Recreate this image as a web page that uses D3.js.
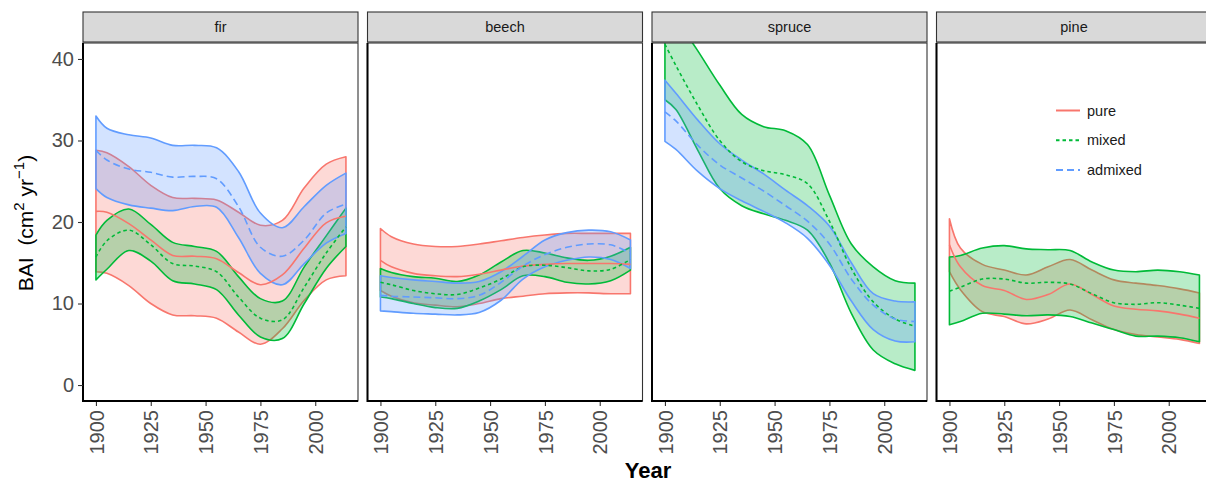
<!DOCTYPE html>
<html><head><meta charset="utf-8">
<script src="https://cdn.jsdelivr.net/npm/d3@7"></script>
<style>
html,body{margin:0;padding:0;background:#fff;}
svg{display:block;font-family:"Liberation Sans",Arial,sans-serif;}
</style>
</head><body>
<svg id="chart" width="1206" height="484"></svg>
<script>
// ---------- data ----------
const years = [1900, 1905, 1915, 1925, 1935, 1945, 1955, 1965, 1975, 1985, 1995, 2005, 2014];
const panels = ["fir", "beech", "spruce", "pine"];
const groupNames = ["pure", "mixed", "admixed"];
const yTicks = [0, 10, 20, 30, 40];
const xTicks = [1900, 1925, 1950, 1975, 2000];

// fir
const firPureHi    = [28.8, 28.5, 26.8, 24.5, 23.0, 22.9, 22.7, 21.2, 19.6, 20.2, 24.2, 27.1, 28.0];
const firPureMid   = [21.3, 21.2, 19.8, 17.8, 15.9, 15.8, 15.5, 13.8, 12.3, 13.5, 16.8, 19.9, 20.7];
const firPureLo    = [13.9, 13.7, 12.2, 10.0, 8.6, 8.5, 8.2, 6.5, 5.0, 6.9, 10.4, 12.9, 13.4];
const firMixedHi   = [18.4, 20.2, 21.6, 19.7, 17.5, 17.0, 16.4, 13.3, 10.6, 10.3, 14.5, 18.3, 21.7];
const firMixedMid  = [15.7, 17.7, 19.0, 17.2, 14.9, 14.6, 13.9, 10.8, 8.2, 8.0, 12.0, 16.2, 19.4];
const firMixedLo   = [12.9, 14.2, 16.5, 15.2, 12.8, 12.4, 11.7, 8.6, 5.9, 5.7, 10.0, 14.3, 17.0];
const firAdmixHi   = [33.0, 31.5, 30.7, 30.3, 29.4, 29.4, 29.1, 26.2, 21.1, 19.3, 21.9, 24.5, 26.0];
const firAdmixMid  = [28.8, 27.6, 26.5, 26.1, 25.5, 25.6, 25.3, 21.9, 16.9, 15.8, 17.8, 21.1, 22.2];
const firAdmixLo   = [24.1, 23.0, 22.1, 21.7, 21.4, 21.9, 21.8, 18.1, 13.7, 12.3, 14.9, 17.4, 18.6];
// beech
const beechPureHi   = [19.2, 18.2, 17.3, 17.0, 17.0, 17.3, 17.7, 18.1, 18.4, 18.6, 18.6, 18.6, 18.6];
const beechPureMid  = [15.3, 14.5, 13.7, 13.4, 13.3, 13.6, 14.1, 14.6, 14.8, 14.9, 14.9, 14.9, 14.8];
const beechPureLo   = [11.6, 10.9, 10.1, 9.8, 9.6, 10.0, 10.6, 10.9, 11.2, 11.3, 11.3, 11.2, 11.2];
const beechMixedHi  = [14.3, 13.8, 13.3, 13.1, 12.7, 13.5, 15.1, 16.5, 16.2, 15.6, 15.3, 15.8, 16.9];
const beechMixedMid = [12.6, 12.3, 11.6, 11.2, 11.1, 11.9, 13.0, 14.5, 14.7, 14.4, 14.0, 14.2, 15.4];
const beechMixedLo  = [10.8, 10.6, 10.0, 9.5, 9.4, 10.3, 11.7, 13.4, 13.3, 12.6, 12.4, 12.8, 14.1];
const beechAdmixHi  = [13.4, 13.2, 12.9, 12.7, 12.5, 12.7, 13.9, 15.8, 17.8, 18.7, 19.0, 18.8, 17.8];
const beechAdmixMid = [11.0, 10.9, 10.8, 10.7, 10.6, 11.0, 12.6, 14.6, 16.0, 16.9, 17.3, 17.2, 16.2];
const beechAdmixLo  = [9.1, 9.0, 8.8, 8.7, 8.6, 8.9, 10.4, 13.0, 14.5, 15.3, 15.7, 15.4, 14.3];
// spruce
const spruceMixedHi  = [47.5, 45.0, 41.0, 36.8, 33.2, 31.7, 31.2, 29.5, 23.3, 17.3, 14.5, 12.8, 12.5];
const spruceMixedMid = [41.8, 39.2, 34.3, 30.0, 27.4, 26.3, 25.8, 24.7, 20.1, 14.3, 10.2, 8.1, 7.2];
const spruceMixedLo  = [35.0, 33.8, 28.8, 24.1, 22.0, 21.0, 20.2, 19.0, 15.0, 8.8, 4.3, 2.6, 1.8];
const spruceAdmixHi  = [37.4, 35.8, 32.5, 29.6, 27.6, 25.9, 23.9, 22.0, 19.5, 15.0, 11.2, 10.3, 10.2];
const spruceAdmixMid = [33.5, 32.4, 29.4, 27.0, 25.4, 23.8, 22.0, 20.1, 17.3, 13.0, 9.8, 8.1, 7.8];
const spruceAdmixLo  = [29.9, 28.9, 26.2, 24.1, 22.6, 21.3, 19.9, 18.0, 14.7, 10.3, 6.8, 5.4, 5.3];
// pine
const pinePureHi   = [20.4, 16.8, 14.8, 14.1, 13.5, 14.5, 15.4, 14.1, 12.9, 12.5, 12.2, 11.8, 11.3];
const pinePureMid  = [17.2, 14.5, 12.2, 11.6, 10.5, 11.1, 12.4, 11.1, 9.7, 9.3, 9.1, 8.7, 8.2];
const pinePureLo   = [13.9, 11.7, 9.0, 8.4, 7.5, 8.1, 9.2, 8.0, 6.8, 6.2, 5.9, 5.6, 5.1];
const pineMixedHi  = [15.7, 15.9, 16.8, 17.1, 16.7, 16.6, 16.5, 15.1, 14.1, 13.9, 14.1, 13.9, 13.5];
const pineMixedMid = [11.5, 12.0, 13.0, 13.0, 12.5, 12.6, 12.4, 11.2, 10.1, 9.9, 10.1, 9.8, 9.4];
const pineMixedLo  = [7.4, 7.8, 8.8, 8.7, 8.5, 8.6, 8.4, 7.6, 6.8, 6.0, 6.0, 5.8, 5.3];

const bands = [
  {panel: "fir", group: "pure", lo: firPureLo, mid: firPureMid, hi: firPureHi},
  {panel: "fir", group: "mixed", lo: firMixedLo, mid: firMixedMid, hi: firMixedHi},
  {panel: "fir", group: "admixed", lo: firAdmixLo, mid: firAdmixMid, hi: firAdmixHi},
  {panel: "beech", group: "pure", lo: beechPureLo, mid: beechPureMid, hi: beechPureHi},
  {panel: "beech", group: "mixed", lo: beechMixedLo, mid: beechMixedMid, hi: beechMixedHi},
  {panel: "beech", group: "admixed", lo: beechAdmixLo, mid: beechAdmixMid, hi: beechAdmixHi},
  {panel: "spruce", group: "mixed", lo: spruceMixedLo, mid: spruceMixedMid, hi: spruceMixedHi},
  {panel: "spruce", group: "admixed", lo: spruceAdmixLo, mid: spruceAdmixMid, hi: spruceAdmixHi},
  {panel: "pine", group: "pure", lo: pinePureLo, mid: pinePureMid, hi: pinePureHi},
  {panel: "pine", group: "mixed", lo: pineMixedLo, mid: pineMixedMid, hi: pineMixedHi}
];

// ---------- style ----------
const color = d3.scaleOrdinal().domain(groupNames).range(["#F8766D", "#00BA38", "#619CFF"]);
const dash = d3.scaleOrdinal().domain(groupNames).range(["none", "3.5,3", "7,4"]);

const svg = d3.select("#chart");
const panelLeft = 83, panelW = 275, panelGap = 9.5;
const panelTop = 43, panelBottom = 401;
const stripTop = 12, stripH = 30;

const y = d3.scaleLinear().domain([-1.96, 41.96]).range([panelBottom, panelTop]);

panels.forEach((p, i) => {
  const x0 = panelLeft + i * (panelW + panelGap);
  const x = d3.scaleLinear().domain([1894.1, 2019.5]).range([x0, x0 + panelW]);
  const g = svg.append("g");

  // strip
  g.append("rect").attr("x", x0).attr("y", stripTop).attr("width", panelW).attr("height", stripH)
    .attr("fill", "#d9d9d9").attr("stroke", "#333").attr("stroke-width", 1.1);
  g.append("text").attr("x", x0 + panelW / 2).attr("y", stripTop + stripH / 2).attr("dy", "0.35em")
    .attr("text-anchor", "middle").attr("font-size", 14.5).attr("fill", "#1a1a1a").text(p);

  // clip
  const clipId = "clip" + i;
  svg.append("clipPath").attr("id", clipId).append("rect")
    .attr("x", x0).attr("y", panelTop).attr("width", panelW).attr("height", panelBottom - panelTop);
  const plot = g.append("g").attr("clip-path", `url(#${clipId})`);

  const pb = bands.filter(b => b.panel === p);
  const area = d3.area().x((d, k) => x(years[k])).curve(d3.curveCatmullRom.alpha(0.5));
  const line = d3.line().x((d, k) => x(years[k])).curve(d3.curveCatmullRom.alpha(0.5));

  pb.forEach(b => {
    const a = area.y0((d, k) => y(b.lo[k])).y1((d, k) => y(b.hi[k]));
    plot.append("path").attr("d", a(years))
      .attr("fill", color(b.group)).attr("fill-opacity", 0.28)
      .attr("stroke", color(b.group)).attr("stroke-width", 1.6).attr("stroke-linejoin", "round");
  });
  pb.forEach(b => {
    plot.append("path").attr("d", line.y((d, k) => y(b.mid[k]))(years))
      .attr("fill", "none").attr("stroke", color(b.group)).attr("stroke-width", 1.6)
      .attr("stroke-dasharray", dash(b.group));
  });

  // border
  g.append("rect").attr("x", x0).attr("y", panelTop).attr("width", panelW).attr("height", panelBottom - panelTop)
    .attr("fill", "none").attr("stroke", "#333").attr("stroke-width", 1.1);

  // x axis
  const xa = g.append("g").attr("transform", `translate(0,${panelBottom})`)
    .call(d3.axisBottom(x).tickValues(xTicks).tickFormat(d3.format("d")).tickSize(5).tickPadding(4));
  xa.select(".domain").remove();
  xa.selectAll(".tick line").attr("stroke", "#333").attr("stroke-width", 1.1);
  xa.selectAll(".tick text")
    .attr("transform", "rotate(-90)").attr("x", -9).attr("y", 0).attr("dy", "0.36em")
    .style("text-anchor", "end").attr("font-size", 20).attr("fill", "#4d4d4d")
    .attr("font-family", "Liberation Sans, Arial, sans-serif");
  // axis lines (left & bottom)
  g.append("line").attr("x1", x0).attr("x2", x0 + panelW).attr("y1", panelBottom).attr("y2", panelBottom)
    .attr("stroke", "#000").attr("stroke-width", 2);
  g.append("line").attr("x1", x0).attr("x2", x0).attr("y1", panelTop).attr("y2", panelBottom + 1)
    .attr("stroke", "#000").attr("stroke-width", 2);

  if (i === 0) {
    const ya = g.append("g").attr("transform", `translate(${x0},0)`)
      .call(d3.axisLeft(y).tickValues(yTicks).tickSize(5).tickPadding(4));
    ya.select(".domain").remove();
    ya.selectAll(".tick line").attr("stroke", "#333").attr("stroke-width", 1.1);
    ya.selectAll(".tick text").attr("font-size", 20).attr("fill", "#4d4d4d")
      .attr("font-family", "Liberation Sans, Arial, sans-serif");
  }

  if (p === "pine") {
    const lg = g.append("g");
    groupNames.forEach((gn, k) => {
      const yy = 110.5 + k * 29.7;
      lg.append("line").attr("x1", 1056).attr("x2", 1080).attr("y1", yy).attr("y2", yy)
        .attr("stroke", color(gn)).attr("stroke-width", 2).attr("stroke-dasharray", dash(gn));
      lg.append("text").attr("x", 1087).attr("y", yy).attr("dy", "0.35em")
        .attr("font-size", 14.5).attr("fill", "#1a1a1a").text(gn);
    });
  }
});

// axis titles
svg.append("text").attr("x", 648).attr("y", 478).attr("text-anchor", "middle")
  .attr("font-size", 22).attr("font-weight", "bold").attr("fill", "#000").text("Year");

const yl = svg.append("text").attr("transform", "translate(33,223) rotate(-90)")
  .attr("text-anchor", "middle").attr("font-size", 21).attr("fill", "#000");
yl.append("tspan").text("BAI\u00a0\u00a0(cm");
yl.append("tspan").attr("font-size", 15).attr("dy", -9).text("2");
yl.append("tspan").attr("dy", 9).text("\u00a0yr");
yl.append("tspan").attr("font-size", 15).attr("dy", -9).text("\u22121");
yl.append("tspan").attr("dy", 9).text(")");
</script>
</body></html>
